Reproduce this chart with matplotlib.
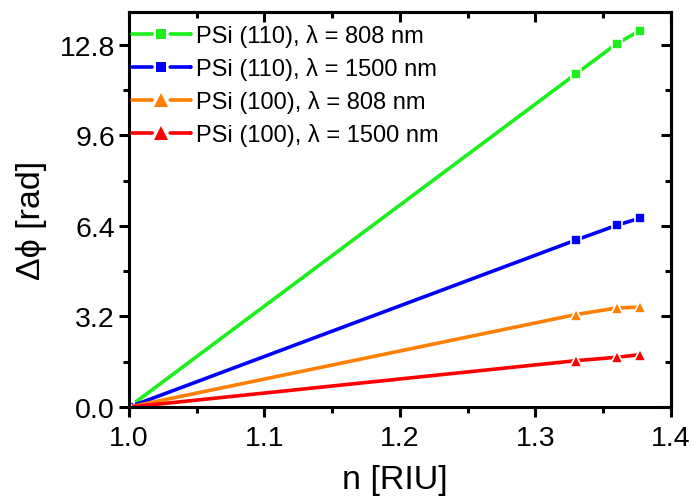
import matplotlib
matplotlib.use('Agg')
import matplotlib.pyplot as plt
from matplotlib.lines import Line2D
import numpy as np

plt.rcParams['font.family'] = ['Liberation Sans', 'DejaVu Sans']
plt.rcParams['lines.scale_dashes'] = False

# データ
n_values = [1.0, 1.33, 1.36, 1.377]
psi110_808 = [0.0, 11.77, 12.83, 13.29]
psi110_1500 = [0.0, 5.90, 6.42, 6.67]
psi100_808 = [0.0, 3.27, 3.50, 3.53]
psi100_1500 = [0.0, 1.64, 1.76, 1.85]

series_labels = ['PSi (110), λ = 808 nm', 'PSi (110), λ = 1500 nm',
                 'PSi (100), λ = 808 nm', 'PSi (100), λ = 1500 nm']
y_ticks = [0.0, 3.2, 6.4, 9.6, 12.8]
y_minor = [1.6, 4.8, 8.0, 11.2]
x_ticks = [1.0, 1.1, 1.2, 1.3, 1.4]
x_minor = [1.05, 1.15, 1.25, 1.35]

# スタイル
COLORS = ['#1AF01A', '#0000FF', '#FF8000', '#FF0000']
MARKERS = ['s', 's', '^', '^']
MSIZES = [7, 7, 9, 9]
LEG_MSIZES = [7.5, 7.5, 9.5, 9.5]
LW = 2.6
SPINE_W = 2.2
TICK_FS = 20.5
LABEL_FS = 24.5
LEGEND_FS = 17
LEG_DASH = (0, (14.5, 13, 14.5, 0))  # 凡例: マーカー周りに隙間

fig = plt.figure(figsize=(6.93, 5.02), dpi=100)
ax = fig.add_axes([0.186, 0.187, 0.782, 0.787])

all_series = [psi110_808, psi110_1500, psi100_808, psi100_1500]
for ys, lab, c, m, ms in zip(all_series, series_labels, COLORS, MARKERS, MSIZES):
    ax.plot(n_values, ys, color=c, marker=m, markersize=ms, linewidth=LW,
            markeredgewidth=1.2, markeredgecolor='white', label=lab)

ax.set_xlim(1.0, 1.4)
ax.set_ylim(0.0, 13.95)
ax.set_xticks(x_ticks)
ax.set_xticklabels([f'{v:.1f}' for v in x_ticks])
ax.set_xticks(x_minor, minor=True)
ax.set_yticks(y_ticks)
ax.set_yticklabels([f'{v:.1f}' for v in y_ticks])
ax.set_yticks(y_minor, minor=True)

for sp in ax.spines.values():
    sp.set_linewidth(SPINE_W)

ax.tick_params(which='major', direction='out', length=7, width=SPINE_W,
               labelsize=TICK_FS)
ax.tick_params(axis='x', which='major', pad=6)
ax.tick_params(axis='y', which='major', pad=3)
ax.tick_params(which='minor', direction='out', length=4, width=SPINE_W)

# 上・右の目盛り（内向き）
secx = ax.secondary_xaxis('top')
secx.set_xticks(x_ticks)
secx.set_xticks(x_minor, minor=True)
secx.tick_params(which='major', direction='in', length=7, width=SPINE_W, labeltop=False)
secx.tick_params(which='minor', direction='in', length=4, width=SPINE_W)
secx.spines['top'].set_linewidth(SPINE_W)
secy = ax.secondary_yaxis('right')
secy.set_yticks(y_ticks)
secy.set_yticks(y_minor, minor=True)
secy.tick_params(which='major', direction='in', length=7, width=SPINE_W, labelright=False)
secy.tick_params(which='minor', direction='in', length=4, width=SPINE_W)
secy.spines['right'].set_linewidth(SPINE_W)

ax.set_xlabel('n [RIU]', fontsize=LABEL_FS)
ax.set_ylabel('Δϕ [rad]', fontsize=LABEL_FS)
ax.xaxis.set_label_coords(0.49, -0.145)
ax.yaxis.set_label_coords(-0.152, 0.476)

# 凡例
handles = [Line2D([], [], color=c, marker=m, markersize=ms, linewidth=LW,
                  linestyle=LEG_DASH, dash_capstyle='round', markeredgewidth=0)
           for c, m, ms in zip(COLORS, MARKERS, LEG_MSIZES)]
leg = ax.legend(handles, series_labels, loc='upper left', bbox_to_anchor=(-0.02, 1.005),
                frameon=False, fontsize=LEGEND_FS, handlelength=2.47,
                handletextpad=0.25, labelspacing=0.42, borderaxespad=0.2)

plt.savefig('out.png', dpi=100)
